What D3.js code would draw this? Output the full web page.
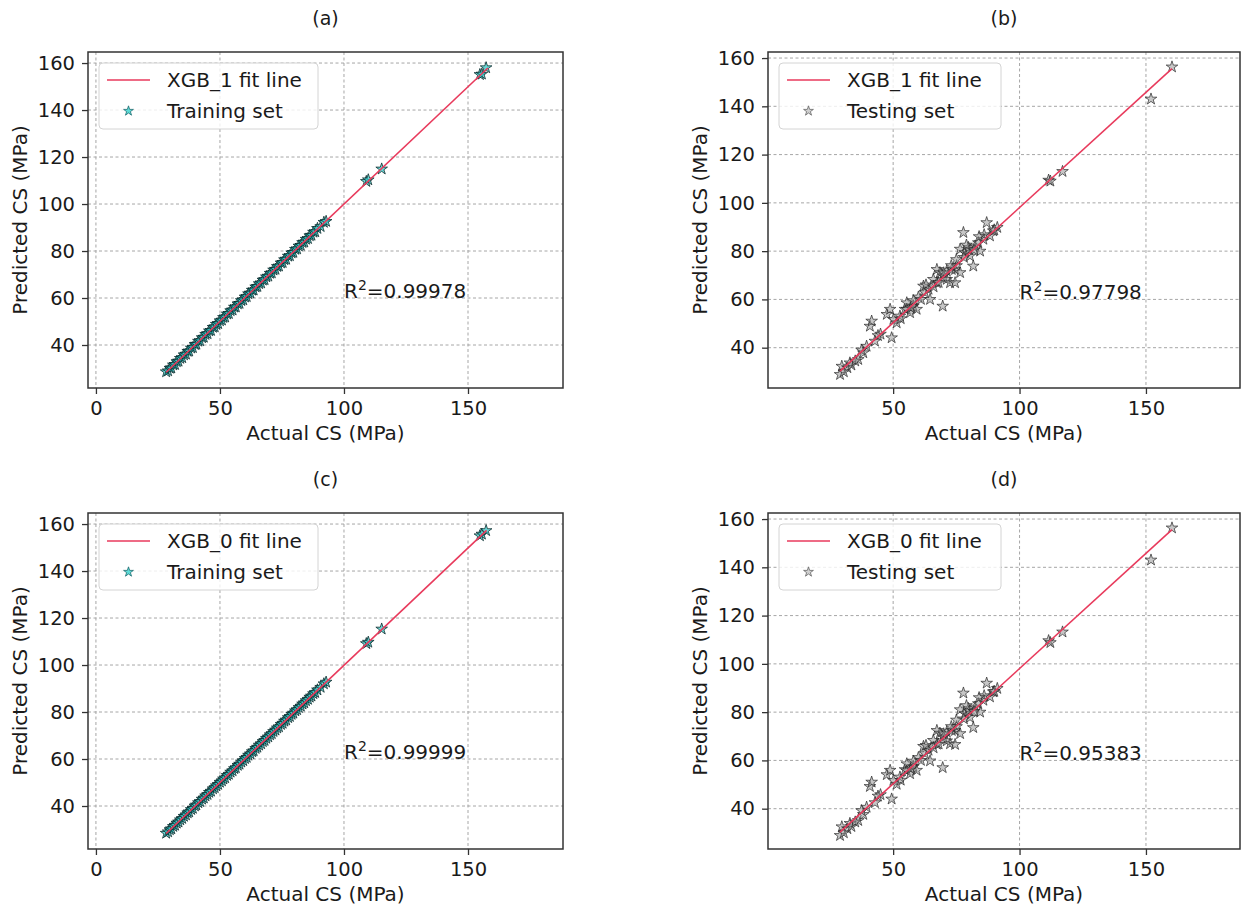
<!DOCTYPE html>
<html>
<head>
<meta charset="utf-8">
<script src="https://cdn.jsdelivr.net/npm/d3@7"></script>
<style>
  body { margin: 0; background: #fff; }
  text { font-family: "DejaVu Sans", sans-serif; fill: #1a1a1a; }
</style>
</head>
<body>
<script>
// ---- data ----
var panelTitles = ["(a)", "(b)", "(c)", "(d)"];
var fitLabels = ["XGB_1 fit line", "XGB_1 fit line", "XGB_0 fit line", "XGB_0 fit line"];
var setLabels = ["Training set", "Testing set", "Training set", "Testing set"];
var r2Labels = ["0.99978", "0.97798", "0.99999", "0.95383"];

var xTicksLeft = [0, 50, 100, 150];
var xTicksRight = [50, 100, 150];
var yTicks = [40, 60, 80, 100, 120, 140, 160];

// training set (shared actual values for a and c)
var trainActual = [28.3, 29.1, 29.8, 30.4, 31.2, 31.9, 32.6, 33.3, 34.0, 34.8,
  35.5, 36.3, 37.0, 37.6, 38.4, 39.1, 39.9, 40.5, 41.3, 42.0,
  42.8, 43.5, 44.2, 45.0, 45.7, 46.4, 47.2, 47.9, 48.5, 49.3,
  50.0, 50.8, 51.4, 52.1, 52.9, 53.6, 54.3, 55.1, 55.8, 56.4,
  57.2, 57.9, 58.6, 59.4, 60.1, 60.8, 61.5, 62.3, 63.0, 63.6,
  64.4, 65.1, 65.8, 66.6, 67.3, 68.0, 68.7, 69.5, 70.2, 70.9,
  71.6, 72.4, 73.1, 73.8, 74.6, 75.3, 76.0, 76.7, 77.5, 78.2,
  78.9, 79.6, 80.4, 81.1, 81.8, 82.6, 83.3, 84.0, 84.7, 85.5,
  86.2, 86.9, 87.7, 88.4, 89.3, 90.6, 91.9, 92.8, 109.0, 109.8,
  115.2, 154.8, 155.6, 157.3];
var trainPredA = [28.6, 29.0, 30.1, 30.2, 31.5, 31.7, 32.9, 33.1, 34.3, 34.6,
  35.8, 36.1, 37.3, 37.4, 38.7, 38.9, 40.2, 40.3, 41.6, 41.8,
  43.1, 43.3, 44.5, 44.8, 46.0, 46.2, 47.5, 47.7, 48.8, 49.1,
  50.3, 50.6, 51.7, 51.9, 53.2, 53.4, 54.6, 54.9, 56.1, 56.2,
  57.5, 57.7, 58.9, 59.2, 60.4, 60.6, 61.8, 62.1, 63.3, 63.4,
  64.7, 64.9, 66.1, 66.4, 67.6, 67.8, 69.0, 69.3, 70.5, 70.7,
  71.9, 72.2, 73.4, 73.6, 74.9, 75.1, 76.3, 76.5, 77.8, 78.0,
  79.2, 79.4, 80.7, 80.9, 82.1, 82.4, 83.6, 83.8, 85.0, 85.3,
  86.5, 86.7, 88.0, 88.2, 89.6, 90.4, 92.2, 92.6, 109.6, 110.3,
  114.9, 155.1, 155.3, 158.0];
var trainPredC = [28.4, 29.0, 29.9, 30.3, 31.3, 31.8, 32.7, 33.2, 34.1, 34.7,
  35.6, 36.2, 37.1, 37.5, 38.5, 39.0, 40.0, 40.4, 41.4, 41.9,
  42.9, 43.4, 44.3, 44.9, 45.8, 46.3, 47.3, 47.8, 48.6, 49.2,
  50.1, 50.7, 51.5, 52.0, 53.0, 53.5, 54.4, 55.0, 55.9, 56.3,
  57.3, 57.8, 58.7, 59.3, 60.2, 60.7, 61.6, 62.2, 63.1, 63.5,
  64.5, 65.0, 65.9, 66.5, 67.4, 67.9, 68.8, 69.4, 70.3, 70.8,
  71.7, 72.3, 73.2, 73.7, 74.7, 75.2, 76.1, 76.6, 77.6, 78.1,
  79.0, 79.5, 80.5, 81.0, 81.9, 82.5, 83.4, 83.9, 84.8, 85.4,
  86.3, 86.8, 87.8, 88.3, 89.4, 90.5, 92.0, 92.7, 109.1, 109.7,
  115.3, 155.0, 155.7, 157.2];

// testing set (shared actual values for b and d)
var testActual = [29.0, 29.7, 31.9, 32.9, 36.2, 38.2, 39.5, 40.8, 41.5, 42.8,
  47.5, 48.8, 49.4, 50.1, 51.4, 52.7, 54.7, 55.4, 55.4, 56.7,
  58.0, 59.3, 62.0, 62.6, 64.0, 64.6, 65.9, 67.3, 67.3, 68.5,
  69.9, 69.6, 71.2, 71.2, 72.5, 73.2, 74.5, 74.5, 75.1, 76.5,
  76.5, 77.8, 78.4, 79.8, 80.4, 81.7, 82.4, 83.7, 84.4, 85.7,
  87.0, 88.3, 89.6, 91.2, 111.5, 112.2, 117.0, 152.0, 160.3,
  30.5, 33.5, 45.0, 57.0, 60.0, 66.0, 70.0, 78.0, 80.0, 86.0,
  44.0, 53.0, 58.0, 61.0, 63.0, 68.0, 73.0, 75.0, 79.0, 82.0,
  84.0, 90.0, 35.0, 37.5];
var testPredB = [28.9, 32.3, 31.7, 33.7, 35.1, 37.9, 40.6, 48.9, 51.0, 42.7,
  53.8, 55.9, 44.1, 51.7, 50.3, 53.1, 55.9, 58.6, 55.9, 54.5,
  57.2, 55.9, 65.5, 62.8, 64.2, 60.0, 68.3, 66.9, 72.4, 71.1,
  69.7, 57.2, 71.8, 68.3, 66.9, 72.4, 66.9, 72.4, 74.0, 71.1,
  80.8, 87.7, 79.4, 81.5, 78.0, 73.8, 82.1, 83.5, 80.0, 84.9,
  91.8, 86.3, 88.4, 89.8, 109.4, 109.0, 113.0, 143.0, 156.3,
  30.0, 32.8, 45.6, 56.5, 61.0, 65.2, 71.0, 77.4, 80.6, 86.8,
  45.0, 52.0, 59.5, 60.0, 66.0, 67.0, 74.0, 76.5, 82.5, 80.5,
  86.0, 88.8, 34.5, 39.0];
var testPredD = [28.9, 32.5, 31.7, 33.9, 35.1, 37.6, 40.6, 49.2, 51.0, 42.5,
  54.1, 55.9, 44.0, 51.7, 50.1, 53.1, 56.2, 58.6, 55.7, 54.5,
  57.4, 55.9, 65.8, 62.8, 64.2, 59.8, 68.3, 66.7, 72.4, 71.3,
  69.7, 57.0, 71.8, 68.1, 66.9, 72.4, 66.6, 72.4, 74.0, 71.1,
  81.0, 87.9, 79.4, 81.5, 77.8, 73.6, 82.1, 83.5, 80.0, 84.9,
  92.0, 86.3, 88.4, 89.8, 109.6, 108.8, 113.2, 143.0, 156.3,
  30.0, 32.6, 45.8, 56.5, 61.2, 65.2, 71.0, 77.2, 80.6, 86.8,
  45.2, 51.8, 59.7, 60.0, 66.2, 66.8, 74.0, 76.7, 82.7, 80.3,
  86.0, 88.6, 34.5, 39.2];

// fit line end points [x0, x1], [y0, y1]
var fitXA = [28.3, 158.0], fitYA = [28.4, 157.9];
var fitXB = [29.0, 160.3], fitYB = [30.3, 155.6];
var fitXC = [28.3, 157.5], fitYC = [28.3, 157.3];
var fitXD = [29.0, 160.3], fitYD = [30.3, 155.6];

// ---- layout ----
var width = 1245, height = 910;
var cols = [{ left: 88, right: 563 }, { left: 768, right: 1240 }];
var rows = [{ top: 52, bottom: 388 }, { top: 513, bottom: 849 }];
var lineColor = "#e83a5c";

var panels = [
  { row: 0, col: 0, xs: trainActual, ys: trainPredA, fx: fitXA, fy: fitYA, train: true },
  { row: 0, col: 1, xs: testActual, ys: testPredB, fx: fitXB, fy: fitYB, train: false },
  { row: 1, col: 0, xs: trainActual, ys: trainPredC, fx: fitXC, fy: fitYC, train: true },
  { row: 1, col: 1, xs: testActual, ys: testPredD, fx: fitXD, fy: fitYD, train: false }
];

var svg = d3.select("body").append("svg")
    .attr("width", width)
    .attr("height", height);

var star = d3.symbol().type(d3.symbolStar).size(42);
var legendStar = d3.symbol().type(d3.symbolStar).size(30);

panels.forEach(function(p, i) {
    var c = cols[p.col], r = rows[p.row];
    // axis limits differ a bit between left (training) and right (testing) column
    var x = d3.scaleLinear()
        .domain(p.col === 0 ? [-3.2, 188.3] : [0.5, 187.2])
        .range([c.left, c.right]);
    var y = d3.scaleLinear()
        .domain(p.col === 0 ? [21.7, 164.7] : [23.3, 162.5])
        .range([r.bottom, r.top]);
    var xTicks = p.col === 0 ? xTicksLeft : xTicksRight;

    var g = svg.append("g");

    // dashed grid
    g.selectAll(".gx").data(xTicks).enter().append("line")
        .attr("x1", function(d) { return x(d); }).attr("x2", function(d) { return x(d); })
        .attr("y1", r.top).attr("y2", r.bottom)
        .attr("stroke", "#a6a6a6").attr("stroke-width", 1).attr("stroke-dasharray", "3,2.5");
    g.selectAll(".gy").data(yTicks).enter().append("line")
        .attr("y1", function(d) { return y(d); }).attr("y2", function(d) { return y(d); })
        .attr("x1", c.left).attr("x2", c.right)
        .attr("stroke", "#a6a6a6").attr("stroke-width", 1).attr("stroke-dasharray", "3,2.5");

    // axes (ticks + labels), domain drawn as a frame below
    var xAxis = g.append("g")
        .attr("transform", "translate(0," + r.bottom + ")")
        .call(d3.axisBottom(x).tickValues(xTicks).tickSize(6).tickSizeOuter(0).tickPadding(7));
    var yAxis = g.append("g")
        .attr("transform", "translate(" + c.left + ",0)")
        .call(d3.axisLeft(y).tickValues(yTicks).tickSize(6).tickSizeOuter(0).tickPadding(7));
    [xAxis, yAxis].forEach(function(a) {
        a.select(".domain").remove();
        a.selectAll("line").attr("stroke", "#333").attr("stroke-width", 1.3);
        a.selectAll("text").style("font-size", "19.5px").style("font-family", "DejaVu Sans").attr("fill", "#1a1a1a");
    });

    // scatter points
    var pts = p.xs.map(function(v, k) { return [v, p.ys[k]]; });
    g.selectAll(".pt").data(pts).enter().append("path")
        .attr("d", star)
        .attr("transform", function(d) { return "translate(" + x(d[0]) + "," + y(d[1]) + ")"; })
        .attr("fill", p.train ? "#2cc6c4" : "#8f8f8f")
        .attr("fill-opacity", p.train ? 0.7 : 0.5)
        .attr("stroke", p.train ? "#082628" : "#222")
        .attr("stroke-opacity", p.train ? 0.85 : 0.75)
        .attr("stroke-width", 0.9);

    // fit line
    g.append("line")
        .attr("x1", x(p.fx[0])).attr("y1", y(p.fy[0]))
        .attr("x2", x(p.fx[1])).attr("y2", y(p.fy[1]))
        .attr("stroke", lineColor).attr("stroke-width", 1.6);

    // frame
    g.append("rect")
        .attr("x", c.left).attr("y", r.top)
        .attr("width", c.right - c.left).attr("height", r.bottom - r.top)
        .attr("fill", "none").attr("stroke", "#333").attr("stroke-width", 1.5);

    // R^2 text
    var rt = g.append("text")
        .attr("x", x(100)).attr("y", y(60))
        .style("font-size", "20px");
    rt.append("tspan").text("R");
    rt.append("tspan").attr("dy", -8).style("font-size", "14px").text("2");
    rt.append("tspan").attr("dy", 8).text("=" + r2Labels[i]);

    // legend
    var lx = c.left + 11, ly = r.top + 11;
    g.append("rect")
        .attr("x", lx).attr("y", ly).attr("width", p.col === 0 ? 219 : 222).attr("height", 66)
        .attr("rx", 4).attr("fill", "#fff").attr("fill-opacity", 0.8)
        .attr("stroke", "#d4d4d4").attr("stroke-width", 1);
    g.append("line")
        .attr("x1", lx + 8).attr("x2", lx + 51)
        .attr("y1", ly + 17).attr("y2", ly + 17)
        .attr("stroke", lineColor).attr("stroke-width", 1.6);
    g.append("path")
        .attr("d", legendStar)
        .attr("transform", "translate(" + (lx + 29.5) + "," + (ly + 48) + ")")
        .attr("fill", p.train ? "#3fd6d0" : "#b0b0b0")
        .attr("fill-opacity", p.train ? 0.85 : 0.6)
        .attr("stroke", p.train ? "#1d6a6e" : "#666")
        .attr("stroke-width", 0.8);
    g.append("text")
        .attr("x", lx + 68).attr("y", ly + 17).attr("dy", "0.35em")
        .style("font-size", "20px").text(fitLabels[i]);
    g.append("text")
        .attr("x", lx + 68).attr("y", ly + 48).attr("dy", "0.35em")
        .style("font-size", "20px").text(setLabels[i]);

    // titles and axis labels
    g.append("text")
        .attr("x", (c.left + c.right) / 2).attr("y", r.top - 27)
        .attr("text-anchor", "middle").style("font-size", "19px")
        .text(panelTitles[i]);
    g.append("text")
        .attr("x", (c.left + c.right) / 2).attr("y", r.bottom + 52)
        .attr("text-anchor", "middle").style("font-size", "20px")
        .text("Actual CS (MPa)");
    g.append("text")
        .attr("transform", "translate(" + (c.left - 61) + "," + ((r.top + r.bottom) / 2) + ") rotate(-90)")
        .attr("text-anchor", "middle").style("font-size", "20px")
        .text("Predicted CS (MPa)");
});
</script>
</body>
</html>
